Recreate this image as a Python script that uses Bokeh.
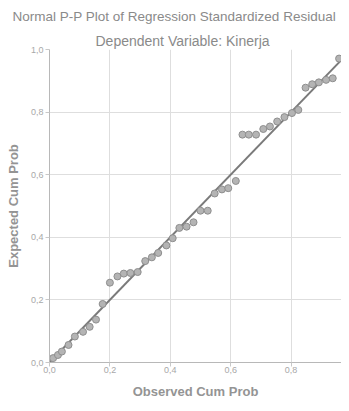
from bokeh.plotting import figure
from bokeh.models import Range1d, Title, CustomJSTickFormatter, FixedTicker
from bokeh.embed import file_html
from bokeh.resources import INLINE

# Observed vs expected cumulative probabilities
observed = [0.012, 0.028, 0.041, 0.063, 0.084, 0.111, 0.133, 0.154, 0.176, 0.200,
            0.225, 0.246, 0.268, 0.292, 0.317, 0.339, 0.360, 0.387, 0.408, 0.430,
            0.454, 0.477, 0.500, 0.524, 0.547, 0.571, 0.592, 0.617, 0.639, 0.660,
            0.684, 0.708, 0.730, 0.754, 0.778, 0.803, 0.824, 0.848, 0.870, 0.892,
            0.916, 0.938, 0.959]
expected = [0.014, 0.024, 0.035, 0.056, 0.083, 0.098, 0.114, 0.137, 0.187, 0.255,
            0.275, 0.284, 0.286, 0.289, 0.324, 0.336, 0.350, 0.374, 0.397, 0.430,
            0.434, 0.448, 0.485, 0.485, 0.540, 0.553, 0.557, 0.580, 0.728, 0.728,
            0.728, 0.746, 0.754, 0.770, 0.784, 0.797, 0.807, 0.878, 0.889, 0.895,
            0.903, 0.908, 0.971]
ref_x = [0.0, 1.0]
ref_y = [0.0, 1.0]
ticks = [0.0, 0.2, 0.4, 0.6, 0.8, 1.0]

FONT = "Liberation Sans"
GRAY_TEXT = "#8a8a8a"

p = figure(width=341, height=403, output_backend="svg", toolbar_location=None,
           x_range=Range1d(0, 0.967), y_range=Range1d(0, 1.0),
           min_border_left=49, min_border_right=0, min_border_bottom=41,
           min_border_top=0, title=None)
p.outline_line_color = None
p.background_fill_color = "white"

sub = Title(text="Dependent Variable: Kinerja", align="left", offset=46,
            text_font=FONT, text_font_size="14px", text_font_style="normal",
            text_color=GRAY_TEXT, standoff=2)
main = Title(text="Normal P-P Plot of Regression Standardized Residual", align="left",
             offset=-37, text_font=FONT, text_font_size="13.5px",
             text_font_style="normal", text_color=GRAY_TEXT, standoff=12)
p.add_layout(sub, "above")
p.add_layout(main, "above")

fmt = CustomJSTickFormatter(code="return tick.toFixed(1).replace('.', ',');")
for ax in (p.xaxis[0], p.yaxis[0]):
    ax.ticker = FixedTicker(ticks=ticks)
    ax.formatter = fmt
    ax.axis_line_color = "#b8b8b8"
    ax.major_tick_line_color = "#c8c8c8"
    ax.major_tick_out = 4
    ax.major_tick_in = 0
    ax.minor_tick_line_color = None
    ax.major_label_text_font = FONT
    ax.major_label_text_font_size = "9px"
    ax.major_label_text_color = "#a8a8a8"
    ax.axis_label_text_font = FONT
    ax.axis_label_text_font_size = "13px"
    ax.axis_label_text_font_style = "bold"
    ax.axis_label_text_color = "#949494"

p.xaxis.major_label_standoff = 0
p.yaxis.major_label_standoff = 2
p.xaxis.axis_label_standoff = 8
p.yaxis.axis_label_standoff = 7
p.xaxis.axis_label = "Observed Cum Prob"
p.yaxis.axis_label = "Expected Cum Prob"
p.yaxis.major_label_orientation = "horizontal"

p.xgrid.ticker = FixedTicker(ticks=ticks)
p.ygrid.ticker = FixedTicker(ticks=ticks)
p.grid.grid_line_color = "#dedede"
p.grid.grid_line_width = 1

p.line(ref_x, ref_y, line_color="#7a7a7a", line_width=2)
p.scatter(observed, expected, size=7, fill_color="#b4b4b4", line_color="#8e8e8e",
          line_width=1)

open("out.html", "w").write(file_html(p, INLINE))
